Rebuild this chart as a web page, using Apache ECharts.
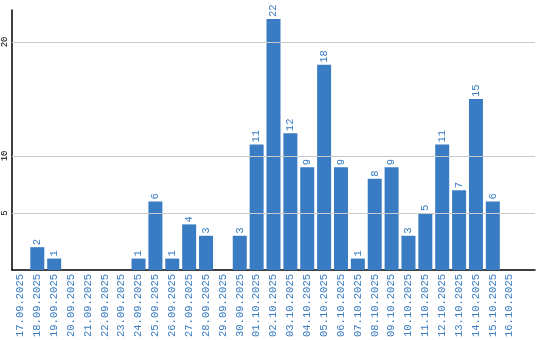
<!DOCTYPE html>
<html><head><meta charset="utf-8">
<script src="https://cdn.jsdelivr.net/npm/echarts@6/dist/echarts.min.js"></script>
<style>html,body{margin:0;padding:0;background:#fff}#c{width:540px;height:340px}</style>
</head><body><div id="c"></div>
<script>
const categories = ['17.09.2025','18.09.2025','19.09.2025','20.09.2025','21.09.2025','22.09.2025','23.09.2025','24.09.2025','25.09.2025','26.09.2025','27.09.2025','28.09.2025','29.09.2025','30.09.2025','01.10.2025','02.10.2025','03.10.2025','04.10.2025','05.10.2025','06.10.2025','07.10.2025','08.10.2025','09.10.2025','10.10.2025','11.10.2025','12.10.2025','13.10.2025','14.10.2025','15.10.2025','16.10.2025'];
const values = [0,2,1,0,0,0,0,1,6,1,4,3,0,3,11,22,12,9,18,9,1,8,9,3,5,11,7,15,6,0];
const yTicks = [5,10,20];

const blue = '#3a7cc3';
const mono = 'Liberation Mono';
const chart = echarts.init(document.getElementById('c'));
chart.setOption({
  animation: false,
  grid: {left: 10, right: 5, top: 10, bottom: 70, containLabel: false},
  xAxis: {
    type: 'category', data: categories, max: categories.length,
    axisLine: {lineStyle: {color: '#000', width: 1.5}},
    axisTick: {show: false},
    axisLabel: {rotate: 90, interval: 0, color: blue, fontFamily: mono, fontSize: 10.5, margin: 4,
      formatter: v => categories.indexOf(v) >= 0 ? v : ''}
  },
  yAxis: {
    type: 'value', min: 0, max: 22.8, interval: 5,
    axisLine: {show: true, lineStyle: {color: '#000', width: 1.5}},
    axisTick: {show: false},
    splitLine: {show: false},
    axisLabel: {rotate: 90, color: '#000', fontFamily: mono, fontSize: 9, margin: 3,
      showMaxLabel: false,
      formatter: v => yTicks.indexOf(v) >= 0 ? String(v) : ''}
  },
  series: [{
    type: 'bar', data: values, barCategoryGap: '17%',
    itemStyle: {color: blue},
    label: {show: true, position: 'top', rotate: 90, align: 'left', verticalAlign: 'middle', distance: 2,
      color: blue, fontFamily: mono, fontSize: 10.5,
      formatter: p => p.value > 0 ? String(p.value) : ''},
    markLine: {
      silent: true, symbol: 'none', label: {show: false},
      lineStyle: {color: '#cacaca', type: 'solid', width: 1},
      data: yTicks.map(t => ({yAxis: t}))
    },
    z: 3
  }]
});
</script></body></html>
